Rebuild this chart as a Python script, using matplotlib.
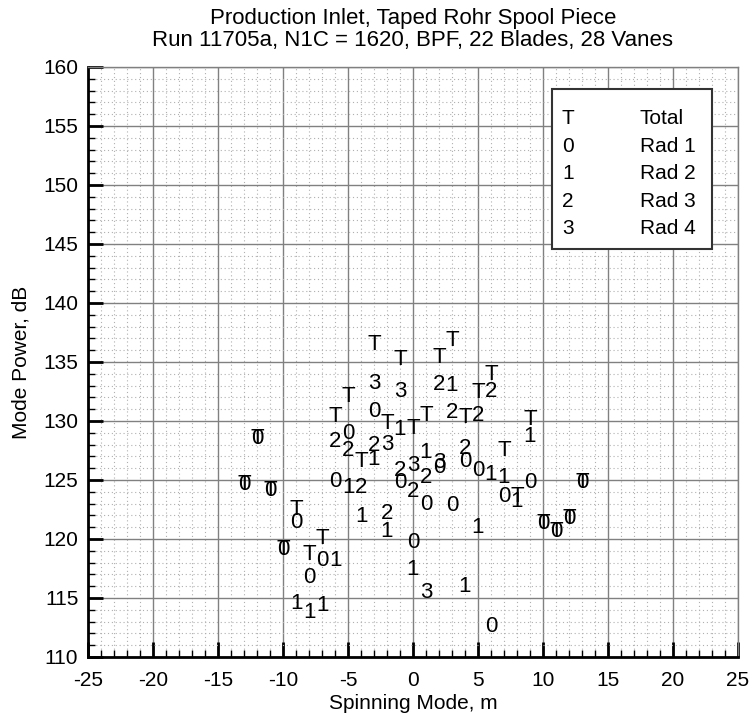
import matplotlib
matplotlib.use("Agg")
import matplotlib.pyplot as plt
from matplotlib.ticker import MultipleLocator
from matplotlib.patches import Rectangle

plt.rcParams['font.family'] = ['Liberation Sans', 'DejaVu Sans']
plt.rcParams['axes.unicode_minus'] = False

# Total (T)
m_total = [-13, -12, -11, -10, -9, -8, -7, -6, -5, -4, -3, -2, -1, 0, 1, 2, 3, 4, 5, 6, 7, 8, 9, 10, 11, 12, 13]
db_total = [124.6, 128.5, 124.1, 119.1, 122.5, 118.7, 120.0, 130.4, 132.1, 126.6, 136.5, 129.8, 135.2,
            129.4, 130.5, 135.4, 136.8, 130.3, 132.4, 133.9, 127.5, 123.6, 130.1, 121.3, 120.6, 121.7, 124.8]

# Rad 1 (0)
m_rad1 = [-13, -12, -11, -10, -9, -8, -7, -6, -5, -3, -1, 0, 1, 2, 3, 4, 5, 6, 7, 9, 10, 11, 12, 13]
db_rad1 = [124.6, 128.5, 124.1, 119.1, 121.4, 116.7, 118.2, 124.9, 128.9, 130.8, 124.8, 119.7,
           122.9, 126.1, 122.8, 126.6, 125.8, 112.6, 123.6, 124.8, 121.3, 120.6, 121.7, 124.8]

# Rad 2 (1)
m_rad2 = [-9, -8, -7, -6, -5, -4, -3, -2, -1, 0, 1, 3, 4, 5, 6, 7, 8, 9]
db_rad2 = [114.5, 113.8, 114.4, 118.2, 124.4, 121.9, 126.7, 120.6, 129.3, 117.4, 127.3, 133.0,
           116.0, 121.0, 125.5, 125.2, 123.2, 128.7]

# Rad 3 (2)
m_rad3 = [-6, -5, -4, -3, -2, -1, 0, 1, 2, 3, 4, 5, 6]
db_rad3 = [128.3, 127.5, 124.4, 127.9, 122.2, 125.8, 124.0, 125.2, 133.1, 130.7, 127.7, 130.5, 132.5]

# Rad 4 (3)
m_rad4 = [-3, -2, -1, 0, 1, 2]
db_rad4 = [133.2, 128.0, 132.5, 126.2, 115.5, 126.5]

symbols = ['T', '0', '1', '2', '3']
labels = ['Total', 'Rad 1', 'Rad 2', 'Rad 3', 'Rad 4']
series = [(m_total, db_total), (m_rad1, db_rad1), (m_rad2, db_rad2),
          (m_rad3, db_rad3), (m_rad4, db_rad4)]

fig = plt.figure(figsize=(7.49, 7.17), dpi=100)
ax = fig.add_axes([0.1175, 0.0837, 0.8678, 0.8229])

ax.set_xlim(-25, 25)
ax.set_ylim(110, 160)
ax.xaxis.set_major_locator(MultipleLocator(5))
ax.xaxis.set_minor_locator(MultipleLocator(1))
ax.yaxis.set_major_locator(MultipleLocator(5))
ax.yaxis.set_minor_locator(MultipleLocator(1))

ax.grid(which='major', color='#808080', lw=1.0, ls='-')
ax.grid(which='minor', color='#b0b0b0', lw=0.8, ls=(0, (1, 2.5)))
ax.set_axisbelow(True)

ax.tick_params(which='major', direction='in', length=11, width=2, color='black',
               labelsize=15, top=False, right=False)
ax.tick_params(which='minor', direction='in', length=5, width=1, color='black',
               top=False, right=False)
ax.tick_params(axis='x', which='major', pad=10)
ax.tick_params(axis='y', which='major', pad=7)

for s in ['left', 'bottom']:
    ax.spines[s].set_linewidth(2)
    ax.spines[s].set_color('black')
for s in ['top', 'right']:
    ax.spines[s].set_linewidth(1)
    ax.spines[s].set_color('#808080')

# text markers
for sym, (xs, ys) in zip(symbols, series):
    for x, y in zip(xs, ys):
        ax.text(x, y, sym, ha='center', va='center', fontsize=16, color='black')

# legend box
ax.add_patch(Rectangle((0.7134, 0.691), 0.2461, 0.2712, transform=ax.transAxes,
                       facecolor='white', edgecolor='#333333', lw=1.5, zorder=5))
row_y = [0.913, 0.865, 0.8186, 0.7717, 0.7266]
for sym, lab, yy in zip(symbols, labels, row_y):
    ax.text(0.7385, yy, sym, transform=ax.transAxes, ha='center', va='center',
            fontsize=15, zorder=6)
    ax.text(0.849, yy, lab, transform=ax.transAxes, ha='left', va='center',
            fontsize=15, zorder=6)

ax.set_xlabel('Spinning Mode, m', fontsize=15, labelpad=3)
ax.set_ylabel('Mode Power, dB', fontsize=15, labelpad=9)
ax.set_title('Production Inlet, Taped Rohr Spool Piece\n'
             'Run 11705a, N1C = 1620, BPF, 22 Blades, 28 Vanes',
             fontsize=16, pad=15, linespacing=1.05)

fig.savefig('out.png', dpi=100)
